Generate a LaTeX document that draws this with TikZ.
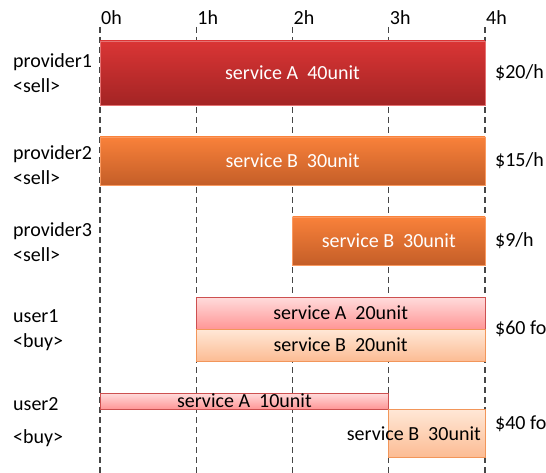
\documentclass[tikz,border=0pt]{standalone}
\usepackage{fontspec}
\setmainfont{Carlito}
\usetikzlibrary{positioning,calc}

\definecolor{redtop}{RGB}{218,53,53}
\definecolor{redbot}{RGB}{163,36,36}
\definecolor{orgtop}{RGB}{249,129,58}
\definecolor{orgbot}{RGB}{196,94,40}
\definecolor{pinktop}{RGB}{255,220,220}
\definecolor{pinkbot}{RGB}{255,150,150}
\definecolor{pinkline}{RGB}{205,80,80}
\definecolor{peachtop}{RGB}{255,232,215}
\definecolor{peachbot}{RGB}{252,188,148}
\definecolor{peachline}{RGB}{242,150,90}
\definecolor{gridgray}{RGB}{70,70,70}

\begin{document}
\begin{tikzpicture}[x=1pt,y=-1pt,
 txt/.style={inner sep=0pt,font=\fontsize{20}{25}\selectfont},
 bar/.style={inner sep=0pt,outer sep=0pt,anchor=north west},
 sellred/.style={bar,top color=redtop,bottom color=redbot,draw=redtop!70!white,line width=0.6pt},
 sellorg/.style={bar,top color=orgtop,bottom color=orgbot,draw=orgtop!80!white,line width=0.6pt},
 buyA/.style={bar,top color=pinktop,bottom color=pinkbot,draw=pinkline,line width=1pt},
 buyB/.style={bar,top color=peachtop,bottom color=peachbot,draw=peachline,line width=1pt},
 who/.style={txt,anchor=west,align=left},
 price/.style={txt,anchor=west,xshift=10pt},
 grid/.style={gridgray,line width=1.2pt,dash pattern=on 6pt off 4pt}]
 \useasboundingbox (0,0) rectangle (546,473);
 % hour marks and dashed time lines
 \foreach \h in {0,...,4} {
  \coordinate (t\h) at ({100+96.25*\h},27);
  \node[txt,anchor=south west] (h\h) at ($(t\h)+(1,-2)$) {\h h};
  \draw[grid] (t\h) -- ++(0,446);
 }
 % sellers
 \node[sellred,minimum width=385pt,minimum height=64pt] (p1) at (100,41) {};
 \node[sellorg,minimum width=385pt,minimum height=48pt] (p2) at (100,137) {};
 \node[sellorg,minimum width=192.5pt,minimum height=48pt] (p3) at (292.5,217) {};
 % buyers
 \node[buyA,minimum width=288.75pt,minimum height=32pt] (u1a) at (196.25,297) {};
 \node[buyB,minimum width=288.75pt,minimum height=32pt] (u1b) at (196.25,329) {};
 \node[buyA,minimum width=288.75pt,minimum height=16pt] (u2a) at (100,393) {};
 \node[buyB,minimum width=96.25pt,minimum height=48pt] (u2b) at (388.75,409) {};
 % bar texts
 \node[txt,white] (p1t) at (p1) {service A\ \ 40unit};
 \node[txt,white] (p2t) at (p2) {service B\ \ 30unit};
 \node[txt,white] (p3t) at (p3) {service B\ \ 30unit};
 \node[txt] (u1at) at (u1a) {service A\ \ 20unit};
 \node[txt] (u1bt) at (u1b) {service B\ \ 20unit};
 \node[txt] (u2at) at (u2a) {service A\ \ 10unit};
 \node[txt,anchor=east] (u2bt) at ($(u2b.east)+(-4,1)$) {service B\ \ 30unit};
 % parties
 \node[who] (w1) at (13,73) {provider1\\<sell>};
 \node[who] (w2) at (13,165) {provider2\\<sell>};
 \node[who] (w3) at (13,242) {provider3\\<sell>};
 \node[who] (w4) at (13,330) {user1\\<buy>};
 \node[who] (w5) at (13,422) {user2\\[8pt]<buy>};
 % prices
 \node[price] (c1) at (p1.east) {\$20/h};
 \node[price] (c2) at (p2.east) {\$15/h};
 \node[price] (c3) at (p3.east) {\$9/h};
 \node[price] (c4) at (u1a.south east) {\$60 fo};
 \node[price,yshift=9pt] (c5) at (u2b.east) {\$40 fo};
\end{tikzpicture}
\end{document}
